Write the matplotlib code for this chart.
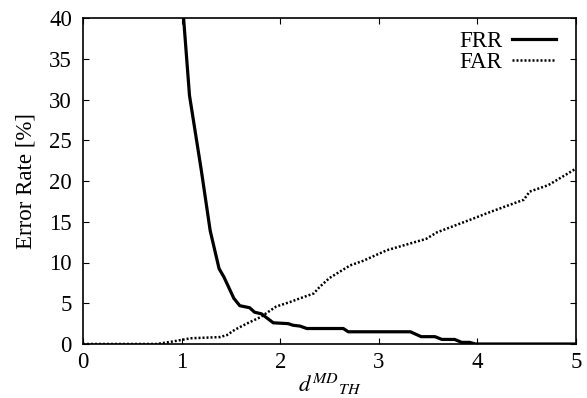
import matplotlib
matplotlib.use("Agg")
import matplotlib.pyplot as plt

plt.rcParams['font.family'] = ['Liberation Serif', 'DejaVu Serif']
plt.rcParams['mathtext.fontset'] = 'stix'

frr_x = [0.90, 1.02, 1.08, 1.20, 1.29, 1.38, 1.43, 1.53, 1.59, 1.69, 1.74, 1.81,
         1.93, 2.08, 2.13, 2.20, 2.27, 2.64, 2.69, 3.32, 3.43, 3.57, 3.64, 3.77,
         3.84, 3.92, 3.98, 5.00]
frr_y = [50.0, 40.0, 30.5, 21.3, 13.9, 9.25, 8.2, 5.6, 4.7, 4.45, 3.9, 3.7,
         2.6, 2.5, 2.3, 2.2, 1.9, 1.9, 1.5, 1.5, 0.9, 0.9, 0.56, 0.56,
         0.2, 0.2, 0.0, 0.0]

far_x = [0.0, 0.75, 0.88, 1.00, 1.09, 1.39, 1.46, 1.54, 1.66, 1.80, 1.96, 2.10,
         2.20, 2.34, 2.40, 2.50, 2.71, 2.84, 3.08, 3.48, 3.59, 3.96, 4.13, 4.47,
         4.53, 4.72, 4.97, 5.00]
far_y = [0.0, 0.0, 0.25, 0.5, 0.7, 0.85, 1.1, 1.75, 2.5, 3.3, 4.6, 5.15,
         5.6, 6.2, 7.0, 8.1, 9.65, 10.2, 11.5, 12.9, 13.7, 15.4, 16.2, 17.7,
         18.7, 19.5, 21.3, 21.6]

x_ticks = [0, 1, 2, 3, 4, 5]
y_ticks = [0, 5, 10, 15, 20, 25, 30, 35, 40]

FS = 16.5
W, H = 587, 398
fig = plt.figure(figsize=(W / 100, H / 100), dpi=100)
ax = fig.add_axes([83 / W, 1 - 344 / H, (576 - 83) / W, (344 - 18) / H])

ax.plot(frr_x, frr_y, color='black', lw=2.3, solid_joinstyle='round', label='FRR')
ax.plot(far_x, far_y, color='black', lw=1.8, linestyle=(0, (0.8, 0.8)), label='FAR')

ax.set_xlim(0, 5)
ax.set_ylim(0, 40)
ax.set_xticks(x_ticks)
ax.set_yticks(y_ticks)
ax.tick_params(direction='in', top=True, right=True, length=4.3, width=0.8,
               labelsize=FS)
ax.tick_params(axis='y', pad=8)
ax.tick_params(axis='x', pad=6)
for s in ax.spines.values():
    s.set_linewidth(1.2)

ax.set_ylabel('Error Rate [%]', fontsize=FS, labelpad=9)
ax.set_xlabel(r'$d^{MD}{}_{TH}$', fontsize=FS, labelpad=-1)

leg = ax.legend(loc='upper right', bbox_to_anchor=(556 / W, 1 - 31 / H),
                bbox_transform=fig.transFigure, frameon=False,
                markerfirst=False, fontsize=FS, handlelength=1.9,
                handletextpad=0.45, labelspacing=0.0, borderpad=0,
                borderaxespad=0)

fig.savefig('out.png', dpi=100)
